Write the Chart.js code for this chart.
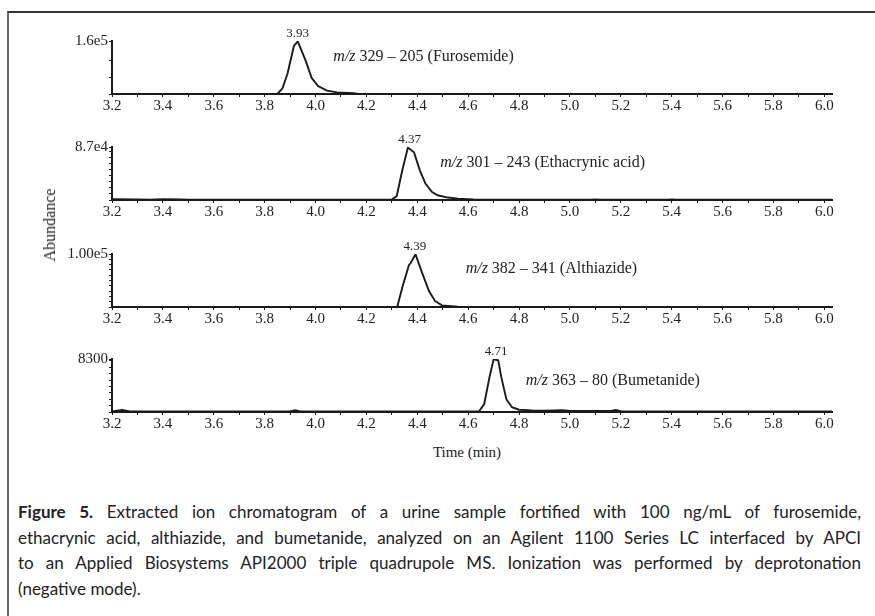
<!DOCTYPE html>
<html>
<head>
<meta charset="utf-8">
<script src="https://cdn.jsdelivr.net/npm/chart.js@4.4.1/dist/chart.umd.min.js"></script>
<style>
  html, body { margin: 0; padding: 0; background: #fff; }
  body { width: 875px; height: 616px; position: relative; overflow: hidden; }
  .frame { position: absolute; left: 7px; top: 11px; width: 868px; height: 620px;
           border-top: 2px solid #333; border-left: 2px solid #666; }
  .panel { position: absolute; left: 0; width: 875px; height: 89px; }
  .ylab { position: absolute; left: 50px; top: 225px; font: 16px "Liberation Serif", serif; color: #222;
          transform: translate(-50%, -50%) rotate(-90deg); white-space: nowrap; }
  .xlab { position: absolute; left: 467px; top: 452px; font: 15px "Liberation Serif", serif; color: #222;
          transform: translate(-50%, -50%); white-space: nowrap; }
  .caption { position: absolute; left: 18px; top: 499px; width: 843px; font: 17px Lato, sans-serif; color: #222; }
  .caption div { line-height: 25.5px; white-space: nowrap; }
  .caption .j { text-align: justify; text-align-last: justify; white-space: normal; }
</style>
</head>
<body>
<div class="frame"></div>
<canvas id="p0" class="panel" width="875" height="89"></canvas>
<canvas id="p1" class="panel" width="875" height="89"></canvas>
<canvas id="p2" class="panel" width="875" height="89"></canvas>
<canvas id="p3" class="panel" width="875" height="89"></canvas>
<div class="ylab">Abundance</div>
<div class="xlab">Time (min)</div>
<div class="caption">
  <div class="j"><b>Figure 5.</b> Extracted ion chromatogram of a urine sample fortified with 100 ng/mL of furosemide,</div>
  <div class="j">ethacrynic acid, althiazide, and bumetanide, analyzed on an Agilent 1100 Series LC interfaced by APCI</div>
  <div class="j">to an Applied Biosystems API2000 triple quadrupole MS. Ionization was performed by deprotonation</div>
  <div>(negative mode).</div>
</div>
<script>
// x ticks (min), labels only on every other one
const xTickValues = [3.2, 3.3, 3.4, 3.5, 3.6, 3.7, 3.8, 3.9, 4.0, 4.1, 4.2, 4.3, 4.4, 4.5, 4.6, 4.7,
  4.8, 4.9, 5.0, 5.1, 5.2, 5.3, 5.4, 5.5, 5.6, 5.7, 5.8, 5.9, 6.0];

// Furosemide  m/z 329 - 205
const furoTime  = [3.2, 3.85, 3.87, 3.89, 3.915, 3.93, 3.96, 3.985, 4.01, 4.045, 4.085, 4.15, 4.17, 6.03];
const furoAbund = [0, 0, 17000, 62000, 145000, 159000, 103000, 48000, 24000, 10000, 5000, 2500, 0, 0];

// Ethacrynic acid  m/z 301 - 243
const ethaTime  = [3.2, 3.3, 3.35, 3.4, 3.47, 3.5, 4.22, 4.3, 4.319, 4.341, 4.363, 4.387, 4.41, 4.432,
  4.458, 4.48, 4.52, 4.56, 4.62, 4.7, 5.08, 5.1, 5.12, 5.38, 5.4, 5.42, 6.03];
const ethaAbund = [1200, 1000, 500, 1500, 1000, 300, 300, 700, 6400, 48700, 86000, 78300, 48700, 27000,
  13000, 7800, 4000, 2200, 1000, 400, 300, 900, 300, 300, 900, 300, 300];

// Althiazide  m/z 382 - 341
const althTime  = [3.2, 4.321, 4.341, 4.367, 4.374, 4.393, 4.42, 4.446, 4.47, 4.497, 4.56, 4.6, 6.03];
const althAbund = [0, 0, 37000, 79000, 83000, 99500, 63000, 30000, 11000, 3000, 500, 0, 0];

// Bumetanide  m/z 363 - 80
const bumeTime  = [3.2, 3.24, 3.27, 3.9, 3.92, 3.94, 4.6, 4.643, 4.663, 4.684, 4.70, 4.718, 4.73, 4.75,
  4.772, 4.80, 4.85, 4.9, 4.97, 5.0, 5.16, 5.18, 5.2, 5.6, 6.03];
const bumeAbund = [100, 300, 100, 100, 280, 100, 100, 120, 1250, 5500, 8250, 8100, 5500, 2000,
  750, 350, 250, 200, 280, 150, 150, 320, 130, 100, 100];

const yMax      = [160000, 87000, 100000, 8300];
const yTopLabel = ['1.6e5', '8.7e4', '1.00e5', '8300'];
const yTicks = [
  [0, 50000, 100000, 160000],
  [0, 10000, 20000, 30000, 40000, 50000, 60000, 70000, 80000, 87000],
  [0, 10000, 20000, 30000, 40000, 50000, 60000, 70000, 80000, 90000, 100000],
  [0, 1000, 2000, 3000, 4000, 5000, 6000, 7000, 8000, 8300]
];
const peakTime  = [3.93, 4.37, 4.39, 4.71];
const peakLabel = ['3.93', '4.37', '4.39', '4.71'];
const ionName   = ['329 \u2013 205 (Furosemide)', '301 \u2013 243 (Ethacrynic acid)',
  '382 \u2013 341 (Althiazide)', '363 \u2013 80 (Bumetanide)'];

// where the m/z text sits: x in minutes, y as fraction of the panel max
const ionLabelX = [4.07, 4.49, 4.59, 4.826];
const ionLabelY = [0.70, 0.70, 0.73, 0.58];
const panelTop  = [41, 147, 254, 359];

const series = [[furoTime, furoAbund], [ethaTime, ethaAbund], [althTime, althAbund], [bumeTime, bumeAbund]];

const ink = '#1a1a1a';
const serif = '"Liberation Serif", "DejaVu Serif", serif';

const labelPlugin = {
  id: 'peakLabels',
  afterDatasetsDraw(chart, args, opts) {
    const i = opts.idx;
    const ctx = chart.ctx;
    const xs = chart.scales.x, ys = chart.scales.y;
    const vals = series[i][1];
    const top = ys.getPixelForValue(Math.max(...vals));
    ctx.save();
    ctx.fillStyle = '#222';
    ctx.textBaseline = 'middle';
    ctx.textAlign = 'center';
    ctx.font = '13px ' + serif;
    ctx.fillText(peakLabel[i], xs.getPixelForValue(peakTime[i]), top - 8);

    ctx.textAlign = 'left';
    let lx = xs.getPixelForValue(ionLabelX[i]);
    const ly = ys.getPixelForValue(ionLabelY[i] * yMax[i]);
    ctx.font = 'italic 16px ' + serif;
    ctx.fillText('m/z', lx, ly);
    lx += ctx.measureText('m/z ').width;
    ctx.font = '16px ' + serif;
    ctx.fillText(ionName[i], lx, ly);
    ctx.restore();
  }
};

series.forEach(([t, a], i) => {
  const canvas = document.getElementById('p' + i);
  canvas.style.top = (panelTop[i] - 16) + 'px';
  new Chart(canvas, {
    type: 'line',
    data: {
      datasets: [{
        data: t.map((v, k) => ({ x: v, y: a[k] })),
        borderColor: ink,
        borderWidth: 1.9,
        pointRadius: 0,
        tension: 0,
        fill: false
      }]
    },
    options: {
      responsive: false,
      animation: false,
      events: [],
      layout: { padding: { top: 16, left: 42, right: 43, bottom: 0 } },
      plugins: {
        legend: { display: false },
        tooltip: { enabled: false },
        peakLabels: { idx: i }
      },
      scales: {
        x: {
          type: 'linear',
          min: 3.2,
          max: 6.03,
          afterBuildTicks(s) { s.ticks = xTickValues.map(v => ({ value: v })); },
          afterFit(s) { s.height = 20; },
          border: { display: true, width: 2, color: ink },
          grid: { drawOnChartArea: false, drawTicks: true, tickLength: 3, color: ink, tickWidth: 1 },
          ticks: {
            padding: 0,
            maxRotation: 0,
            autoSkip: false,
            color: '#222',
            font: { family: serif, size: 15 },
            callback: (v, k) => (k % 2 === 0 ? v.toFixed(1) : '')
          }
        },
        y: {
          min: 0,
          max: yMax[i],
          afterBuildTicks(s) { s.ticks = yTicks[i].map(v => ({ value: v })); },
          afterFit(s) { s.width = 70; },
          border: { display: true, width: 2, color: ink },
          grid: { drawOnChartArea: false, drawTicks: true, tickLength: 3, color: ink, tickWidth: 1 },
          ticks: {
            padding: 1,
            autoSkip: false,
            color: '#222',
            font: { family: serif, size: 15 },
            callback: v => (v === yMax[i] ? yTopLabel[i] : '')
          }
        }
      }
    },
    plugins: [labelPlugin]
  });
});
</script>
</body>
</html>
